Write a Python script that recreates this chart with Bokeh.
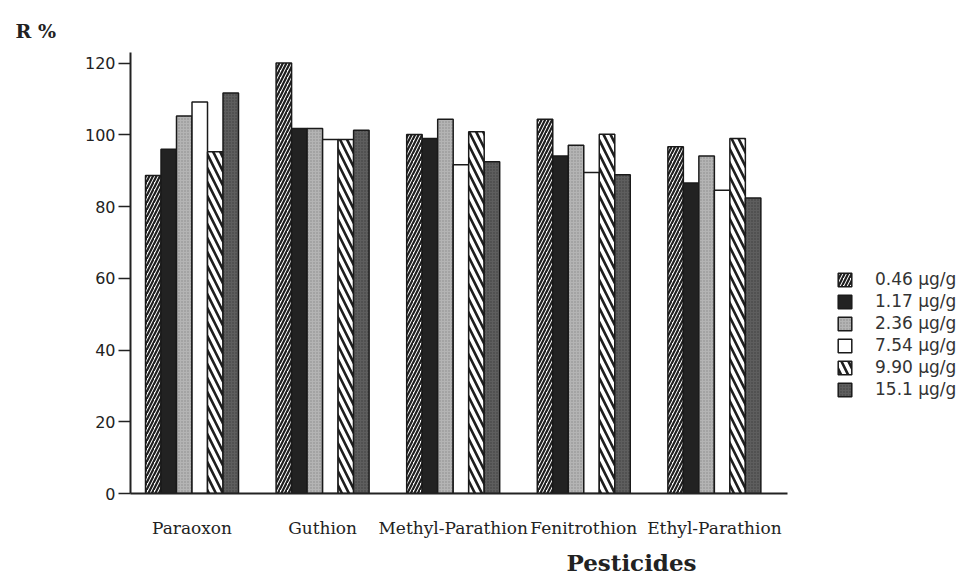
from bokeh.plotting import figure
from bokeh.models import ColumnDataSource, Range1d, FixedTicker, Legend, LegendItem, Title
from bokeh.transform import dodge
from bokeh.embed import file_html
from bokeh.resources import INLINE

categories = ["Paraoxon", "Guthion", "Methyl-Parathion", "Fenitrothion", "Ethyl-Parathion"]
series_names = ["0.46 µg/g", "1.17 µg/g", "2.36 µg/g", "7.54 µg/g", "9.90 µg/g", "15.1 µg/g"]

r_046 = [88.7, 120.1, 100.1, 104.4, 96.7]
r_117 = [96.0, 101.8, 99.0, 94.1, 86.6]
r_236 = [105.3, 101.8, 104.4, 97.1, 94.1]
r_754 = [109.2, 98.7, 91.7, 89.5, 84.6]
r_990 = [95.3, 98.7, 100.9, 100.2, 99.0]
r_151 = [111.7, 101.3, 92.5, 88.9, 82.4]

y_ticks = [0, 20, 40, 60, 80, 100, 120]

series_values = [r_046, r_117, r_236, r_754, r_990, r_151]

styles = [
    dict(fill_color="white", hatch_pattern="/", hatch_color="#1e1e1e", hatch_scale=7, hatch_weight=2.2),
    dict(fill_color="#222222"),
    dict(fill_color="#b4b4b4", hatch_pattern=".", hatch_color="#8a8a8a", hatch_scale=3, hatch_weight=1),
    dict(fill_color="white"),
    dict(fill_color="white", hatch_pattern="\\", hatch_color="#1e1e1e", hatch_scale=14, hatch_weight=2.6),
    dict(fill_color="#5e5e5e", hatch_pattern=".", hatch_color="#3e3e3e", hatch_scale=3, hatch_weight=1),
]

positions = list(range(len(categories)))
data = {"pos": positions}
keys = ["s0", "s1", "s2", "s3", "s4", "s5"]
for k, v in zip(keys, series_values):
    data[k] = v
source = ColumnDataSource(data)

p = figure(frame_width=657, frame_height=441,
           min_border_left=130, min_border_right=174, min_border_top=52, min_border_bottom=75,
           x_range=Range1d(-0.471, 4.56), y_range=Range1d(0, 123),
           output_backend="svg", toolbar_location=None)
p.outline_line_color = None
p.xgrid.grid_line_color = None
p.ygrid.grid_line_color = None
p.background_fill_color = "white"
p.border_fill_color = "white"

bw = 0.1187
items = []
for i, (k, name, st) in enumerate(zip(keys, series_names, styles)):
    r = p.vbar(x=dodge("pos", (i - 2.5) * bw, range=p.x_range), top=k, bottom=0, width=bw,
               source=source, line_color="#1a1a1a", line_width=1.5, **st)
    items.append(LegendItem(label=name, renderers=[r]))

legend = Legend(items=items, location=(49, 94), orientation="vertical",
                glyph_width=17, glyph_height=17, label_height=17, spacing=2,
                label_standoff=22, padding=0, margin=0,
                border_line_color=None, background_fill_alpha=0,
                label_text_font="DejaVu Sans", label_text_font_size="17px",
                label_text_color="#333333")
p.add_layout(legend, "right")

# x axis
p.xaxis.ticker = FixedTicker(ticks=positions)
p.xaxis.major_label_overrides = {i: c for i, c in enumerate(categories)}
p.xaxis.major_tick_line_color = None
p.xaxis.minor_tick_line_color = None
p.xaxis.axis_line_color = "#222222"
p.xaxis.axis_line_width = 2
p.xaxis.major_label_standoff = 18
p.xaxis.major_label_text_font = "DejaVu Serif"
p.xaxis.major_label_text_font_size = "17px"
p.xaxis.major_label_text_color = "#222222"

# y axis
p.yaxis.ticker = FixedTicker(ticks=y_ticks)
p.yaxis.minor_tick_line_color = None
p.yaxis.major_tick_in = 0
p.yaxis.major_tick_out = 12
p.yaxis.major_tick_line_width = 1.5
p.yaxis.major_tick_line_color = "#222222"
p.yaxis.axis_line_color = "#222222"
p.yaxis.axis_line_width = 2
p.yaxis.major_label_standoff = 3
p.yaxis.major_label_text_font = "DejaVu Sans"
p.yaxis.major_label_text_font_size = "16px"
p.yaxis.major_label_text_color = "#222222"

p.add_layout(Title(text="R %", align="left", offset=-115, standoff=22,
                   text_font="DejaVu Serif", text_font_style="bold",
                   text_font_size="19px", text_color="#222222"), "above")
p.add_layout(Title(text="Pesticides", align="left", offset=436, standoff=12,
                   text_font="DejaVu Serif", text_font_style="bold",
                   text_font_size="23px", text_color="#222222"), "below")

open("out.html", "w").write(file_html(p, INLINE))
